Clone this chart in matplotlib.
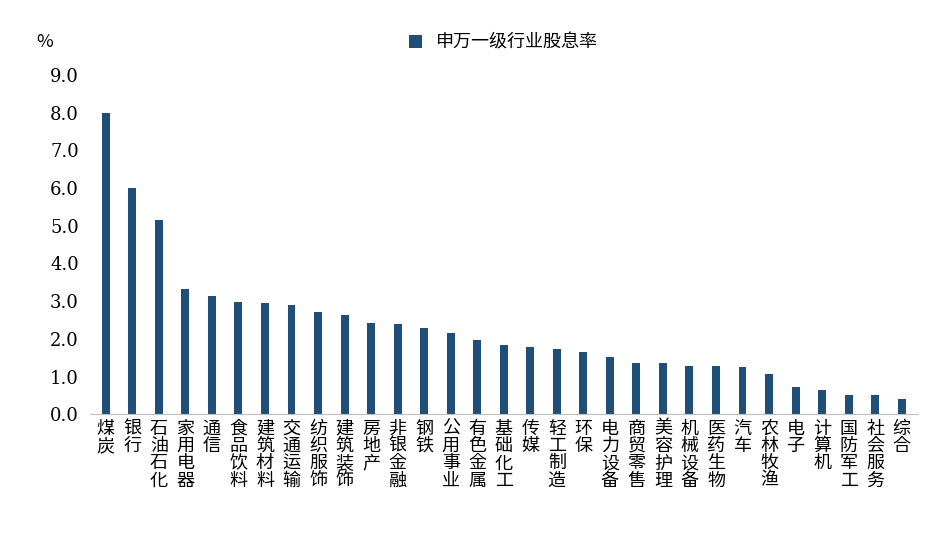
import matplotlib
matplotlib.use("Agg")
import matplotlib.pyplot as plt

categories = ["煤炭","银行","石油石化","家用电器","通信","食品饮料","建筑材料","交通运输","纺织服饰","建筑装饰",
              "房地产","非银金融","钢铁","公用事业","有色金属","基础化工","传媒","轻工制造","环保","电力设备",
              "商贸零售","美容护理","机械设备","医药生物","汽车","农林牧渔","电子","计算机","国防军工","社会服务","综合"]
values = [8.0,6.01,5.15,3.32,3.13,2.99,2.96,2.91,2.70,2.64,
          2.43,2.40,2.29,2.16,1.97,1.83,1.78,1.73,1.64,1.51,
          1.37,1.37,1.29,1.27,1.24,1.08,0.73,0.65,0.51,0.51,0.40]
yticks = [0,1,2,3,4,5,6,7,8,9]

CJK = ["Noto Sans CJK SC", "Noto Sans CJK JP", "Noto Sans CJK TC", "DejaVu Sans"]
plt.rcParams["font.family"] = CJK
fig = plt.figure(figsize=(9.46,5.56), dpi=100)
ax = fig.add_axes([0.095, 0.255, 0.875, 0.61])
x = range(len(categories))
ax.bar(x, values, width=0.3, color="#1F4E79", label="申万一级行业股息率")
ax.set_xlim(-0.6, len(categories)-0.4)
ax.set_ylim(0, 9)
ax.set_yticks(yticks)
ax.set_yticklabels([f"{v:.1f}" for v in yticks], fontsize=13, fontfamily="DejaVu Serif")
ax.set_xticks(list(x))
ax.set_xticklabels(["\n".join(c) for c in categories], fontsize=13, linespacing=0.95, va="top", fontfamily=CJK)
ax.tick_params(axis="y", length=0, pad=8)
ax.tick_params(axis="x", length=0, pad=4)
for s in ["top","right","left"]:
    ax.spines[s].set_visible(False)
ax.spines["bottom"].set_color("#BFBFBF")
fig.text(0.038, 0.915, "%", fontsize=13)
ax.legend(loc="upper center", bbox_to_anchor=(0.5, 1.17), frameon=False, prop={"family": CJK, "size": 13},
          handlelength=0.7, handleheight=0.7)
fig.savefig("out.png")
